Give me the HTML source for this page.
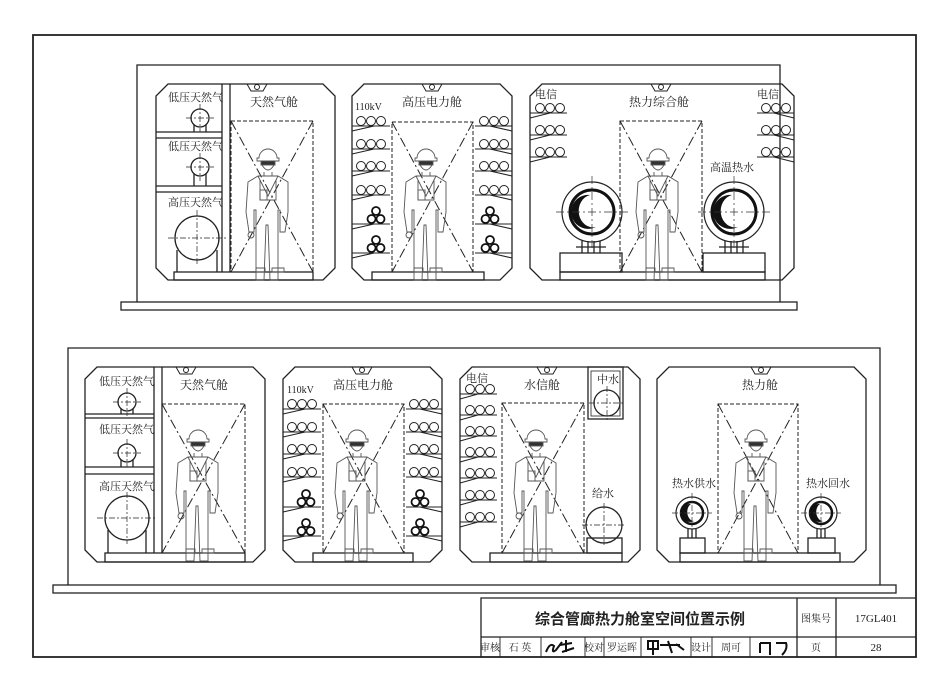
<!DOCTYPE html>
<html><head><meta charset="utf-8"><style>
html,body{margin:0;padding:0;background:#fff}
svg{display:block}
text{font-family:"Liberation Serif","Noto Serif CJK SC","Noto Sans CJK SC",serif;fill:#222}
</style></head><body>
<svg width="950" height="691" viewBox="0 0 950 691" xmlns="http://www.w3.org/2000/svg">
<defs>
<g id="man" fill="none" stroke="#555" stroke-width="0.9">
<path d="M-9,8 a9,9 0 0 1 18,0 h2 v3 h-22 v-3 z" fill="#fff"/>
<rect x="-7" y="11" width="14" height="4" fill="#333"/>
<path d="M-6,15 q6,10 12,0"/>
<path d="M-4,22 v4 h8 v-4"/>
<path d="M-20,32 l10,-6 h20 l10,6 v30 l-3,20 h-5 l0,-22 l-2,0 v70 h-8 l-2,-55 h-2 l-2,55 h-8 v-70 l-2,0 l0,22 h-5 l-3,-20 z"/>
<path d="M-10,26 l10,20 l10,-20 M-8,30 v20 h16 v-20"/>
<rect x="-8" y="40" width="7" height="10"/>
<circle cx="-17" cy="85" r="3"/>
<path d="M-12,118 h9 v4 h-9z M4,118 h12 v4 h-12z"/>
</g>
<g id="tc" fill="none" stroke="#222" stroke-width="1">
<circle cx="-10" cy="-5" r="4.5"/><circle cx="0" cy="-5" r="4.5"/><circle cx="10" cy="-5" r="4.5"/>
</g>
<g id="tri" fill="none" stroke="#111" stroke-width="1.8">
<circle cx="0" cy="-13" r="4"/><circle cx="-4.5" cy="-5" r="4"/><circle cx="4.5" cy="-5" r="4"/>
</g>
<g id="bigpipe">
<circle r="30" fill="none" stroke="#222" stroke-width="1.2"/>
<circle r="22" fill="none" stroke="#111" stroke-width="3"/>
<path d="M-2,-17 a17,17 0 1 0 6,32 a14,16 0 0 1 -6,-32 z" fill="#111"/>
<path d="M-36,0 h72 M0,-36 v72" stroke="#333" stroke-width="0.7" stroke-dasharray="8,3,2,3"/>
</g>
<g id="medpipe">
<circle r="16" fill="none" stroke="#222" stroke-width="1.2"/>
<circle r="11" fill="none" stroke="#111" stroke-width="2.5"/>
<path d="M-1,-9 a9,9 0 1 0 3,17 a7,9 0 0 1 -3,-17 z" fill="#111"/>
<path d="M-20,0 h40 M0,-20 v40" stroke="#333" stroke-width="0.7" stroke-dasharray="6,2,2,2"/>
</g>
</defs>
<g fill="none" stroke="#222" stroke-width="1.3">
<rect x="33" y="35" width="883" height="622" stroke-width="1.8"/>
<path d="M137,302 V65 H780 V302"/>
<rect x="121" y="302" width="676" height="8"/>
<path d="M68,585 V348 H880 V585"/>
<rect x="53" y="585" width="843" height="8"/>

<path d="M168,84 H323 L335,96 V268 L323,280 H168 L156,268 V96 Z"/>
<path d="M364,84 H500 L512,96 V268 L500,280 H364 L352,268 V96 Z"/>
<path d="M542,84 H782 L794,96 V268 L782,280 H542 L530,268 V96 Z"/>
<path d="M97,367 H253 L265,379 V550 L253,562 H97 L85,550 V379 Z"/>
<path d="M295,367 H430 L442,379 V550 L430,562 H295 L283,550 V379 Z"/>
<path d="M472,367 H628 L640,379 V550 L628,562 H472 L460,550 V379 Z"/>
<path d="M669,367 H854 L866,379 V550 L854,562 H669 L657,550 V379 Z"/>

<g stroke-width="1">
<path d="M247,84 l4,7 h12 l4,-7"/><circle cx="257" cy="87" r="2.5"/>
<path d="M422,84 l4,7 h12 l4,-7"/><circle cx="432" cy="87" r="2.5"/>
<path d="M651,84 l4,7 h12 l4,-7"/><circle cx="661" cy="87" r="2.5"/>
<path d="M176,367 l4,7 h12 l4,-7"/><circle cx="186" cy="370" r="2.5"/>
<path d="M352,367 l4,7 h12 l4,-7"/><circle cx="362" cy="370" r="2.5"/>
<path d="M537,367 l4,7 h12 l4,-7"/><circle cx="547" cy="370" r="2.5"/>
<path d="M751,367 l4,7 h12 l4,-7"/><circle cx="761" cy="370" r="2.5"/>
</g>

<g stroke-dasharray="4,2" stroke-width="1">
<rect x="231" y="121" width="82" height="151"/><path d="M231,121 L313,272 M313,121 L231,272" stroke-dasharray="10,3,2,3"/>
<rect x="392" y="122" width="81" height="150"/><path d="M392,122 L473,272 M473,122 L392,272" stroke-dasharray="10,3,2,3"/>
<rect x="620" y="121" width="82" height="151"/><path d="M620,121 L702,272 M702,121 L620,272" stroke-dasharray="10,3,2,3"/>
<rect x="162" y="404" width="83" height="149"/><path d="M162,404 L245,553 M245,404 L162,553" stroke-dasharray="10,3,2,3"/>
<rect x="323" y="404" width="81" height="149"/><path d="M323,404 L404,553 M404,404 L323,553" stroke-dasharray="10,3,2,3"/>
<rect x="502" y="403" width="82" height="150"/><path d="M502,403 L584,553 M584,403 L502,553" stroke-dasharray="10,3,2,3"/>
<rect x="718" y="404" width="80" height="149"/><path d="M718,404 L798,553 M798,404 L718,553" stroke-dasharray="10,3,2,3"/>
</g>

<rect x="174" y="272" width="139" height="8"/>
<rect x="372" y="272" width="112" height="8"/>
<rect x="560" y="272" width="205" height="8"/>
<rect x="105" y="553" width="140" height="9"/>
<rect x="313" y="553" width="100" height="9"/>
<rect x="490" y="553" width="132" height="9"/>
<rect x="680" y="553" width="160" height="9"/>

<path d="M222,84 V272 M230,84 V272"/>
<path d="M156,132 H222 M156,138 H222 M156,186 H222 M156,192 H222"/>
<circle cx="200" cy="118" r="9"/><path d="M194,125 v7 M206,125 v7"/>
<circle cx="200" cy="167" r="9"/><path d="M194,174 v12 M206,174 v12"/>
<circle cx="197" cy="238" r="22"/><path d="M177,250 v22 M217,250 v22"/>
<g stroke-width="0.7" stroke-dasharray="6,2,2,2"><path d="M186,118 h28 M200,104 v28 M186,167 h28 M200,153 v28 M168,238 h58 M197,210 v56"/></g>
<path d="M154,367 V553 M162,367 V553"/>
<path d="M85,414 H154 M85,418 H154 M85,467 H154 M85,474 H154"/>
<circle cx="127" cy="402" r="9"/><path d="M121,409 v5 M133,409 v5"/>
<circle cx="127" cy="453" r="9"/><path d="M121,460 v7 M133,460 v7"/>
<circle cx="127" cy="518" r="22"/><path d="M108,530 v23 M146,530 v23"/>
<g stroke-width="0.7" stroke-dasharray="6,2,2,2"><path d="M113,402 h28 M127,388 v28 M113,453 h28 M127,439 v28 M97,518 h60 M127,492 v52"/></g>

<rect x="560" y="253" width="62" height="19"/><rect x="703" y="253" width="62" height="19"/>
<path d="M582,241 v12 M588,241 v12 M594,241 v12 M600,241 v12 M576,247 h30"/>
<path d="M725,241 v12 M731,241 v12 M737,241 v12 M743,241 v12 M719,247 h30"/>
<rect x="680" y="538" width="25" height="15"/><rect x="808" y="538" width="27" height="15"/>
<path d="M688,529 v9 M692,529 v9 M696,529 v9 M817,529 v9 M821,529 v9 M825,529 v9"/>
<rect x="588" y="367" width="35" height="52"/><rect x="591" y="371" width="29" height="45" stroke-width="0.8"/>
<circle cx="607" cy="403" r="13"/>
<circle cx="604" cy="525" r="18"/><rect x="587" y="538" width="35" height="15"/>
<g stroke-width="0.7" stroke-dasharray="6,2,2,2"><path d="M589,403 h36 M607,386 v34 M582,525 h44 M604,503 v44"/></g>
</g>

<use href="#bigpipe" x="592" y="212"/>
<use href="#bigpipe" x="734" y="212"/>
<use href="#medpipe" x="692" y="513"/>
<use href="#medpipe" x="821" y="513"/>

<g fill="none" stroke="#222" stroke-width="1.1">
<path d="M352,126 H390 M352,131 l22,-5 M352,149 H390 M352,154 l22,-5 M352,171 H390 M352,176 l22,-5 M352,195 H390 M352,200 l22,-5 M352,224 H390 M352,229 l22,-5 M352,253 H390 M352,258 l22,-5"/>
<path d="M475,126 H512 M512,131 l-22,-5 M475,149 H512 M512,154 l-22,-5 M475,171 H512 M512,176 l-22,-5 M475,195 H512 M512,200 l-22,-5 M475,224 H512 M512,229 l-22,-5 M475,253 H512 M512,258 l-22,-5"/>
<path d="M283,409 H321 M283,414 l22,-5 M283,432 H321 M283,437 l22,-5 M283,454 H321 M283,459 l22,-5 M283,477 H321 M283,482 l22,-5 M283,507 H321 M283,512 l22,-5 M283,536 H321 M283,541 l22,-5"/>
<path d="M406,409 H442 M442,414 l-22,-5 M406,432 H442 M442,437 l-22,-5 M406,454 H442 M442,459 l-22,-5 M406,477 H442 M442,482 l-22,-5 M406,507 H442 M442,512 l-22,-5 M406,536 H442 M442,541 l-22,-5"/>
<path d="M530,113 H567 M530,118 l20,-5 M530,135 H567 M530,140 l20,-5 M530,157 H567 M530,162 l20,-5"/>
<path d="M757,113 H794 M794,118 l-20,-5 M757,135 H794 M794,140 l-20,-5 M757,157 H794 M794,162 l-20,-5"/>
<path d="M460,394 H497 M460,399 l18,-5 M460,415 H497 M460,420 l18,-5 M460,436 H497 M460,441 l18,-5 M460,457 H497 M460,462 l18,-5 M460,478 H497 M460,483 l18,-5 M460,500 H497 M460,505 l18,-5 M460,522 H497 M460,527 l18,-5"/>
</g>
<g>
<use href="#tc" x="371" y="126"/><use href="#tc" x="371" y="149"/><use href="#tc" x="371" y="171"/><use href="#tc" x="371" y="195"/>
<use href="#tri" x="376" y="224"/><use href="#tri" x="376" y="253"/>
<use href="#tc" x="494" y="126"/><use href="#tc" x="494" y="149"/><use href="#tc" x="494" y="171"/><use href="#tc" x="494" y="195"/>
<use href="#tri" x="490" y="224"/><use href="#tri" x="490" y="253"/>
<use href="#tc" x="302" y="409"/><use href="#tc" x="302" y="432"/><use href="#tc" x="302" y="454"/><use href="#tc" x="302" y="477"/>
<use href="#tri" x="306" y="507"/><use href="#tri" x="306" y="536"/>
<use href="#tc" x="424" y="409"/><use href="#tc" x="424" y="432"/><use href="#tc" x="424" y="454"/><use href="#tc" x="424" y="477"/>
<use href="#tri" x="420" y="507"/><use href="#tri" x="420" y="536"/>
<use href="#tc" x="550" y="113"/><use href="#tc" x="550" y="135"/><use href="#tc" x="550" y="157"/>
<use href="#tc" x="776" y="113"/><use href="#tc" x="776" y="135"/><use href="#tc" x="776" y="157"/>
<use href="#tc" x="480" y="394"/><use href="#tc" x="480" y="415"/><use href="#tc" x="480" y="436"/><use href="#tc" x="480" y="457"/><use href="#tc" x="480" y="478"/><use href="#tc" x="480" y="500"/><use href="#tc" x="480" y="522"/>
</g>

<use href="#man" x="268" y="150"/>
<use href="#man" x="426" y="150"/>
<use href="#man" x="658" y="150"/>
<use href="#man" x="198" y="431"/>
<use href="#man" x="357" y="431"/>
<use href="#man" x="536" y="431"/>
<use href="#man" x="756" y="431"/>

<g font-size="11">
<text x="168" y="101">低压天然气</text>
<text x="168" y="150">低压天然气</text>
<text x="168" y="206">高压天然气</text>
<text x="250" y="106" font-size="12">天然气舱</text>
<text x="355" y="110" font-size="10">110kV</text>
<text x="402" y="106" font-size="12">高压电力舱</text>
<text x="535" y="98">电信</text>
<text x="757" y="98">电信</text>
<text x="629" y="106" font-size="12">热力综合舱</text>
<text x="710" y="171">高温热水</text>
<text x="99" y="385">低压天然气</text>
<text x="99" y="433">低压天然气</text>
<text x="99" y="490">高压天然气</text>
<text x="180" y="389" font-size="12">天然气舱</text>
<text x="287" y="393" font-size="10">110kV</text>
<text x="333" y="389" font-size="12">高压电力舱</text>
<text x="466" y="382">电信</text>
<text x="524" y="389" font-size="12">水信舱</text>
<text x="597" y="383">中水</text>
<text x="592" y="497">给水</text>
<text x="742" y="389" font-size="12">热力舱</text>
<text x="672" y="487">热水供水</text>
<text x="806" y="487">热水回水</text>
</g>

<g fill="none" stroke="#222" stroke-width="1.3">
<path d="M481,657 V598 H916"/>
<path d="M481,637 H916"/>
<path d="M797,598 V657 M836,598 V657"/>
<g stroke-width="0.9"><path d="M500,637 V657 M541,637 V657 M585,637 V657 M604,637 V657 M641,637 V657 M691,637 V657 M712,637 V657 M750,637 V657"/></g>
</g>
<text x="640" y="624" font-size="15" font-weight="bold" text-anchor="middle" style="font-family:'Liberation Sans','Noto Sans CJK SC',sans-serif">综合管廊热力舱室空间位置示例</text>
<g font-size="10">
<text x="816" y="622" text-anchor="middle">图集号</text>
<text x="876" y="622" text-anchor="middle" font-size="11">17GL401</text>
<text x="490" y="651" text-anchor="middle">审核</text>
<text x="520" y="651" text-anchor="middle">石 英</text>
<text x="594" y="651" text-anchor="middle">校对</text>
<text x="622" y="651" text-anchor="middle">罗运晖</text>
<text x="701" y="651" text-anchor="middle">设计</text>
<text x="731" y="651" text-anchor="middle">周可</text>
<text x="816" y="651" text-anchor="middle">页</text>
<text x="876" y="651" text-anchor="middle" font-size="11">28</text>
</g>
<g fill="none" stroke="#111" stroke-width="2">
<path d="M546,652 q4,-10 8,-6 q-3,8 2,4 l6,-8 M560,645 l12,-2 M566,640 v12 M562,652 l12,-4"/>
<path d="M648,641 h10 v8 h-10z M653,641 v14 M660,645 h20 M668,641 l4,12 M676,644 l8,6"/>
<path d="M760,643 v10 M760,643 h10 v12 M776,643 h10 q2,6 -4,12"/>
</g>
</svg>
</body></html>
